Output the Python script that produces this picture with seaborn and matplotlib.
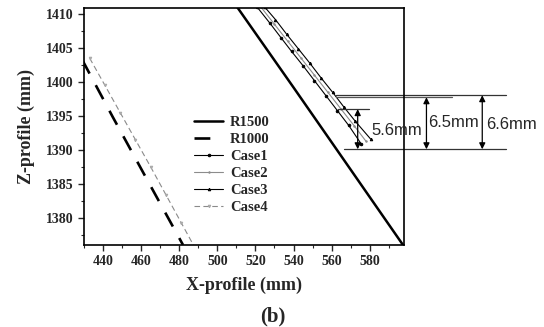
import numpy as np
import matplotlib
matplotlib.use("Agg")
import matplotlib.pyplot as plt
import seaborn as sns

# ---- data (x-profile, z-profile in mm) ----
r1500_x = [510.5, 540.0, 570.0, 597.5]
r1500_z = [1411.0, 1399.2, 1387.1, 1376.0]

r1000_x = [429.0, 445.0, 462.0, 482.0]
r1000_z = [1403.3, 1394.9, 1386.2, 1376.0]

case1_x = [521.0, 527.5, 533.5, 539.0, 545.0, 551.0, 557.0, 563.0, 569.0, 575.5]
case1_z = [1411.0, 1408.7, 1406.5, 1404.5, 1402.4, 1400.2, 1398.0, 1395.8, 1393.6, 1390.9]

case2_x = [523.0, 530.0, 537.0, 544.0, 551.0, 558.0, 565.0, 572.0, 578.0]
case2_z = [1411.0, 1408.5, 1406.0, 1403.5, 1401.0, 1398.5, 1396.0, 1393.5, 1391.3]

case3_x = [525.0, 530.5, 536.5, 542.5, 548.5, 554.5, 560.5, 566.5, 572.5, 580.5]
case3_z = [1411.0, 1409.2, 1407.0, 1404.9, 1402.8, 1400.6, 1398.5, 1396.3, 1394.2, 1391.6]

case4_x = [433.0, 441.0, 449.0, 457.0, 465.0, 473.0, 481.0, 489.0]
case4_z = [1403.5, 1399.5, 1395.5, 1391.5, 1387.5, 1383.4, 1379.3, 1375.2]

xticks = [440, 460, 480, 500, 520, 540, 560, 580]
yticks = [1380, 1385, 1390, 1395, 1400, 1405, 1410]

# dimension marks: (label, x of arrow, z bottom, z top)
dim_labels = ["5.6mm", "6.5mm", "6.6mm"]
dim_x = [573.7, 609.8, 639.1]
dim_ztop = [1396.0, 1397.75, 1398.05]
dim_zbot = [1390.1, 1390.1, 1390.1]
dim_text_x = [581.0, 610.8, 641.1]
dim_text_z = [1392.9, 1394.0, 1393.8]

sns.set_style("ticks")
plt.rcParams['font.family'] = ['Liberation Serif', 'DejaVu Serif']
plt.rcParams['font.weight'] = 'bold'

fig = plt.figure(figsize=(5.44, 3.27), dpi=100)
ax = fig.add_axes([0.1544, 0.2508, 0.5882, 0.7248])

sns.lineplot(x=r1500_x, y=r1500_z, ax=ax, sort=False, color='black', lw=1.8, label='R1500')
sns.lineplot(x=r1000_x, y=r1000_z, ax=ax, sort=False, color='black', lw=1.9, label='R1000')
ax.lines[-1].set_dashes([6, 5])
sns.lineplot(x=case1_x, y=case1_z, ax=ax, sort=False, color='black', lw=0.8,
             marker='o', ms=1.8, mec='black', label='Case1')
sns.lineplot(x=case2_x, y=case2_z, ax=ax, sort=False, color='#8c8c8c', lw=0.8,
             marker='o', ms=1.0, mec='#8c8c8c', label='Case2')
sns.lineplot(x=case3_x, y=case3_z, ax=ax, sort=False, color='black', lw=0.8,
             marker='^', ms=1.8, mec='black', label='Case3')
sns.lineplot(x=case4_x, y=case4_z, ax=ax, sort=False, color='#8a8a8a', lw=0.8,
             marker='v', ms=1.8, mec='#aaaaaa', mfc='#aaaaaa', label='Case4')
ax.lines[-1].set_dashes([5, 3])

ax.set_xlim(431, 598)
ax.set_ylim(1376, 1410.9)
ax.set_xticks(xticks)
ax.set_yticks(yticks)
ax.set_xticks(np.arange(430, 600, 10), minor=True)
ax.set_yticks(np.arange(1377.5, 1411, 2.5), minor=True)
ax.tick_params(axis='both', which='major', length=4, width=1, labelsize=10, direction='out')
ax.tick_params(axis='both', which='minor', length=2.5, width=0.8, direction='out')
for s in ax.spines.values():
    s.set_visible(True)
    s.set_linewidth(1.2)
    s.set_color('black')

ax.set_xlabel('X-profile (mm)', fontsize=13, fontweight='bold', labelpad=6)
ax.set_ylabel('Z-profile (mm)', fontsize=13, fontweight='bold', labelpad=8)

leg = ax.legend(loc='upper left', bbox_to_anchor=(0.344, 0.545), frameon=False,
                fontsize=10.5, handlelength=2.0, handletextpad=0.45,
                labelspacing=0.26, borderpad=0, borderaxespad=0)

# dimension lines (drawn outside the axes)
ax.plot([562.3, 651.6], [1398.05, 1398.05], color='#333333', lw=0.9, clip_on=False)
ax.plot([562.3, 623.4], [1397.75, 1397.75], color='#555555', lw=0.9, clip_on=False)
ax.plot([563.3, 579.5], [1396.0, 1396.0], color='#333333', lw=0.9, clip_on=False)
ax.plot([566.4, 651.6], [1390.1, 1390.1], color='#333333', lw=0.9, clip_on=False)
for lab, xa, zt, zb, tx, tz in zip(dim_labels, dim_x, dim_ztop, dim_zbot, dim_text_x, dim_text_z):
    ax.annotate('', xy=(xa, zt), xytext=(xa, zb), xycoords='data',
                arrowprops=dict(arrowstyle='<|-|>', color='black', lw=0.9,
                                mutation_scale=9, shrinkA=0, shrinkB=0),
                annotation_clip=False)
    ax.text(tx, tz, lab, fontsize=12, fontweight='normal',
            family=['Liberation Sans Narrow', 'Liberation Sans'],
            ha='left', va='center', clip_on=False)

fig.text(0.502, 0.031, '(b)', fontsize=15, fontweight='bold', ha='center', va='center')

fig.savefig('out.png', dpi=100)
